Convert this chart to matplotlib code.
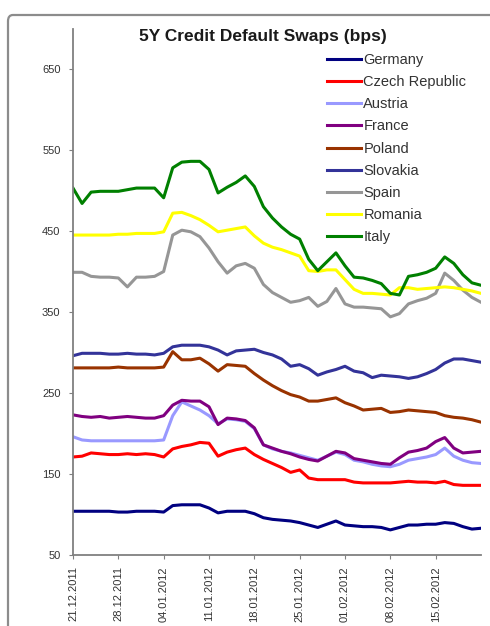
import matplotlib.pyplot as plt
import numpy as np
from matplotlib.patches import FancyBboxPatch

plt.rcParams['font.family'] = ['Liberation Sans', 'DejaVu Sans']

# weekly labels, one every 5 trading days
tick_labels = ['21.12.2011', '28.12.2011', '04.01.2012', '11.01.2012', '18.01.2012',
               '25.01.2012', '01.02.2012', '08.02.2012', '15.02.2012']

germany = [104, 104, 104, 104, 104, 103, 103, 104, 104, 104, 103, 111, 112, 112, 112, 108,
           102, 104, 104, 104, 101, 96, 94, 93, 92, 90, 87, 84, 88, 92, 87, 86, 85, 85, 84,
           81, 84, 87, 87, 88, 88, 90, 89, 85, 82, 83]
czech = [171, 172, 176, 175, 174, 174, 175, 174, 175, 174, 171, 181, 184, 186, 189, 188,
         172, 177, 180, 182, 174, 168, 163, 158, 152, 155, 145, 143, 143, 143, 143, 140,
         139, 139, 139, 139, 140, 141, 140, 140, 139, 141, 137, 136, 136, 136]
austria = [196, 192, 191, 191, 191, 191, 191, 191, 191, 191, 192, 222, 239, 234, 229, 222,
           212, 218, 217, 215, 206, 186, 181, 178, 176, 173, 170, 167, 172, 177, 174, 167,
           165, 162, 160, 159, 162, 167, 169, 171, 174, 182, 172, 167, 164, 163]
france = [223, 221, 220, 221, 219, 220, 221, 220, 219, 219, 222, 235, 241, 240, 240, 233,
          211, 219, 218, 216, 207, 186, 182, 178, 175, 171, 168, 166, 172, 178, 176, 169,
          167, 165, 163, 162, 170, 177, 179, 182, 190, 195, 182, 176, 177, 178]
poland = [281, 281, 281, 281, 281, 282, 281, 281, 281, 281, 282, 301, 291, 291, 293, 286,
          277, 285, 284, 283, 274, 266, 259, 253, 248, 245, 240, 240, 242, 244, 238, 234,
          229, 230, 231, 226, 227, 229, 228, 227, 226, 222, 220, 219, 217, 214]
slovakia = [296, 299, 299, 299, 298, 298, 299, 298, 298, 297, 299, 307, 309, 309, 309, 307,
            303, 297, 302, 303, 304, 300, 297, 292, 283, 285, 280, 272, 276, 279, 283, 277,
            275, 269, 272, 271, 270, 268, 270, 274, 279, 287, 292, 292, 290, 288]
spain = [399, 399, 394, 393, 393, 392, 381, 393, 393, 394, 400, 445, 451, 449, 443, 429,
         412, 398, 407, 410, 404, 384, 374, 368, 362, 364, 368, 357, 363, 379, 360, 356,
         356, 355, 354, 344, 348, 360, 364, 367, 373, 398, 389, 377, 368, 362]
romania = [445, 445, 445, 445, 445, 446, 446, 447, 447, 447, 449, 472, 473, 469, 464, 457,
           449, 451, 453, 455, 444, 435, 430, 427, 423, 419, 401, 400, 402, 402, 390, 378,
           373, 373, 372, 371, 380, 380, 378, 379, 380, 381, 380, 378, 376, 373]
italy = [503, 484, 498, 499, 499, 499, 501, 503, 503, 503, 491, 528, 535, 536, 536, 526,
         497, 504, 510, 518, 505, 480, 466, 455, 446, 440, 415, 401, 412, 423, 407, 393,
         392, 389, 385, 373, 371, 394, 396, 399, 404, 418, 410, 396, 386, 383]

series = [('Germany', germany, '#000080'),
          ('Czech Republic', czech, '#FF0000'),
          ('Austria', austria, '#9999FF'),
          ('France', france, '#800080'),
          ('Poland', poland, '#993300'),
          ('Slovakia', slovakia, '#333399'),
          ('Spain', spain, '#969696'),
          ('Romania', romania, '#FFFF00'),
          ('Italy', italy, '#008000')]

W, H = 490, 626
fig = plt.figure(figsize=(W / 100, H / 100), dpi=100)

# chart area frame, runs off the right and bottom edges
frame = FancyBboxPatch((8 / W, -0.1), 1.2, 1 - 15 / H + 0.1,
                       boxstyle='round,pad=0,rounding_size=0.01',
                       transform=fig.transFigure, fill=False,
                       edgecolor='#8c8c8c', linewidth=1.6)
fig.patches.append(frame)

ax = fig.add_axes([73 / W, 1 - 555 / H, (481 - 73) / W, (555 - 28.5) / H])

x = np.arange(len(germany))
for name, vals, col in series:
    ax.plot(x, vals, color=col, linewidth=2.2, label=name)

ax.set_xlim(0, len(germany) - 1)
ax.set_ylim(50, 700)
ax.set_yticks(np.arange(50, 700, 100))
ax.set_xticks(np.arange(0, len(tick_labels) * 5, 5))
ax.set_xticklabels(tick_labels, rotation=90, fontsize=8, color='#333333')
ax.tick_params(axis='y', labelsize=8, labelcolor='#333333', length=3,
               color='#808080', pad=6)
ax.tick_params(axis='x', length=3, color='#808080', pad=5)

for side in ('top', 'right'):
    ax.spines[side].set_visible(False)
for side in ('left', 'bottom'):
    ax.spines[side].set_color('#808080')
    ax.spines[side].set_linewidth(1.3)

fig.text(263 / W, 1 - 36 / H, '5Y Credit Default Swaps (bps)', ha='center',
         va='center', fontsize=12.5, fontweight='bold', color='#1a1a1a')

leg = ax.legend(loc='upper left', bbox_to_anchor=(327 / W, 1 - 53 / H),
                bbox_transform=fig.transFigure, frameon=False, fontsize=10.5,
                handlelength=2.35, handletextpad=0.15, labelspacing=0.56,
                borderpad=0, borderaxespad=0)
for t in leg.get_texts():
    t.set_color('#333333')

fig.savefig('out.png', dpi=100)
